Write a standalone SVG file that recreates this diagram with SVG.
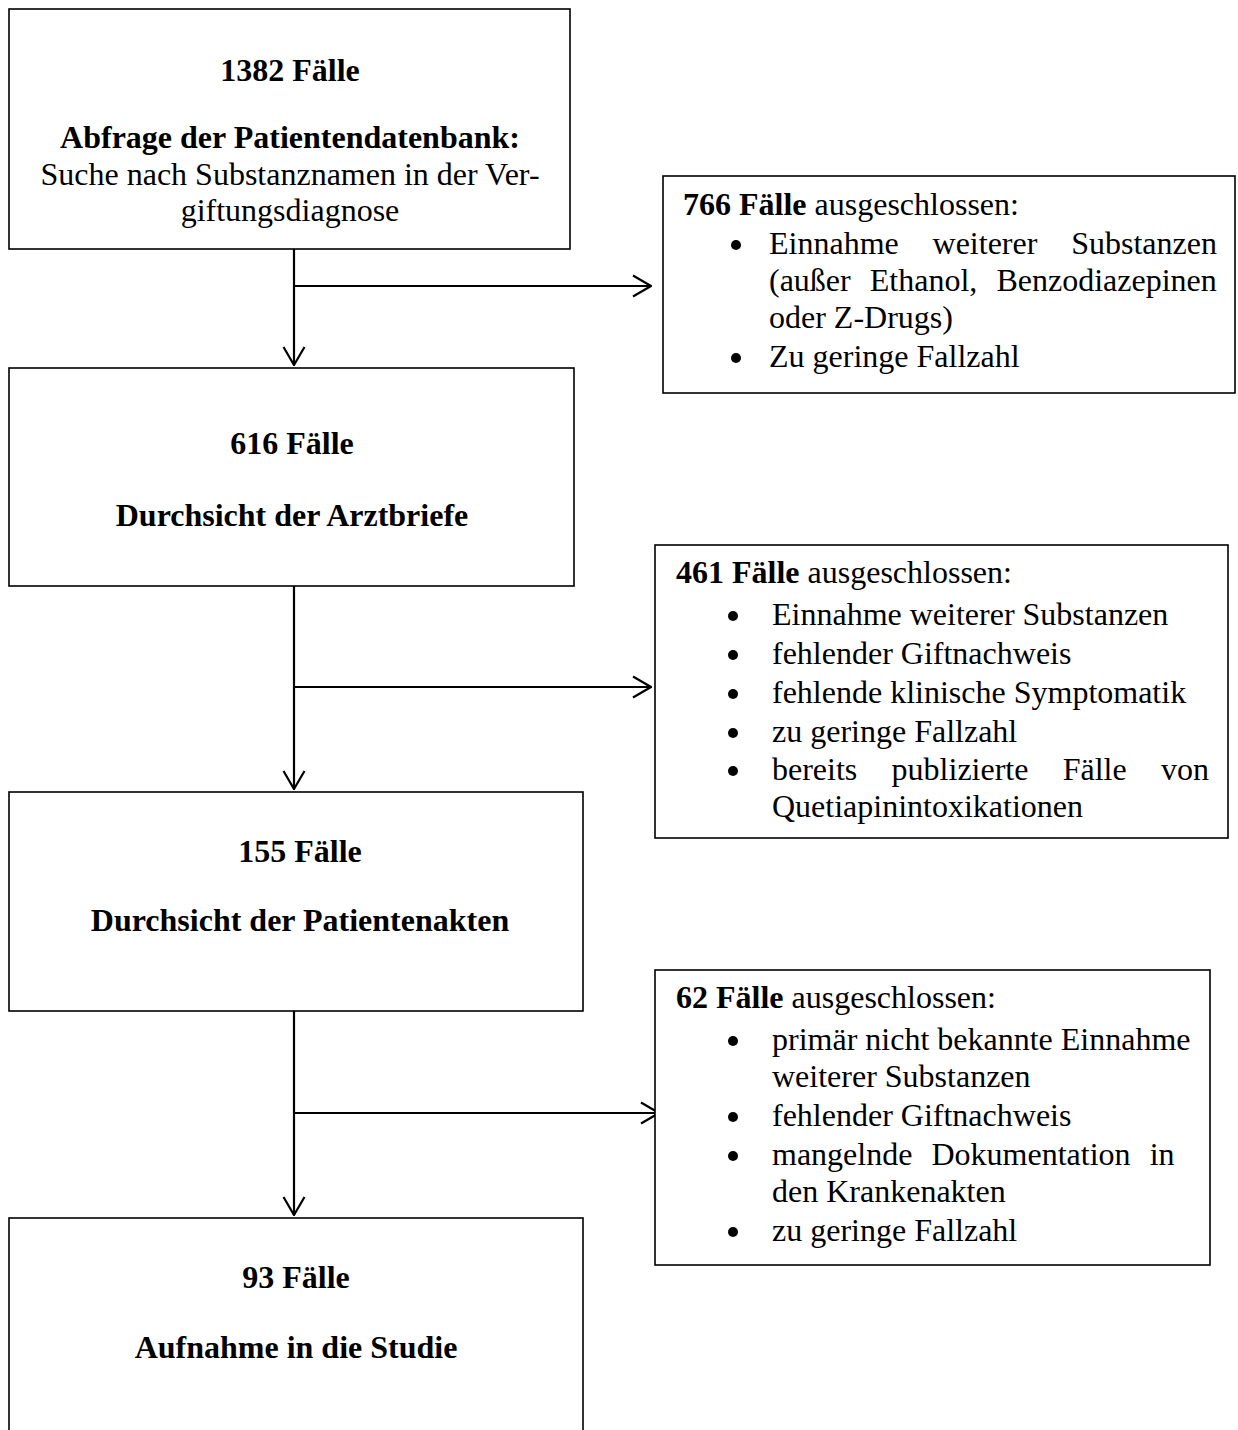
<svg xmlns="http://www.w3.org/2000/svg" width="1238" height="1430" viewBox="0 0 1238 1430">
<style>
text{font-family:"Liberation Serif","Times New Roman",serif;font-size:32px;fill:#000}
.b{font-weight:bold}
.c{text-anchor:middle}
.box{fill:#fff;stroke:#000;stroke-width:1.6}
.ln{fill:none;stroke:#000;stroke-width:2.2}
.dot{fill:#000}
</style>
<defs>
<marker id="arr" markerUnits="userSpaceOnUse" viewBox="0 0 20 24" refX="19" refY="12" markerWidth="20" markerHeight="24" orient="auto">
<path d="M1,1.5 L19,12 L1,22.5" fill="none" stroke="#000" stroke-width="2.2"/>
</marker>
</defs>
<rect width="1238" height="1430" fill="#fff"/>
<g id="connectors">
<line class="ln" x1="294" y1="249" x2="294" y2="365" marker-end="url(#arr)"/>
<line class="ln" x1="294" y1="286" x2="651" y2="286" marker-end="url(#arr)"/>
<line class="ln" x1="294" y1="586" x2="294" y2="789" marker-end="url(#arr)"/>
<line class="ln" x1="294" y1="687" x2="651" y2="687" marker-end="url(#arr)"/>
<line class="ln" x1="294" y1="1011" x2="294" y2="1215" marker-end="url(#arr)"/>
<line class="ln" x1="294" y1="1113" x2="659" y2="1113" marker-end="url(#arr)"/>
</g>
<g id="n1">
<rect class="box" x="9" y="9" width="561" height="240"/>
<text class="b c" x="290" y="81">1382 Fälle</text>
<text class="b c" x="290" y="148">Abfrage der Patientendatenbank:</text>
<text class="c" x="290" y="185">Suche nach Substanznamen in der Ver-</text>
<text class="c" x="290" y="221">giftungsdiagnose</text>
</g>
<g id="n2">
<rect class="box" x="9" y="368" width="565" height="218"/>
<text class="b c" x="292" y="454">616 Fälle</text>
<text class="b c" x="292" y="526">Durchsicht der Arztbriefe</text>
</g>
<g id="n3">
<rect class="box" x="9" y="792" width="574" height="219"/>
<text class="b c" x="300" y="862">155 Fälle</text>
<text class="b c" x="300" y="931">Durchsicht der Patientenakten</text>
</g>
<g id="n4">
<rect class="box" x="9" y="1218" width="574" height="230"/>
<text class="b c" x="296" y="1288">93 Fälle</text>
<text class="b c" x="296" y="1358">Aufnahme in die Studie</text>
</g>
<g id="x1">
<rect class="box" x="663" y="176" width="572" height="217"/>
<text x="683" y="215"><tspan class="b">766 Fälle</tspan> ausgeschlossen:</text>
<circle class="dot" cx="736" cy="245" r="5"/>
<text x="769" y="254" word-spacing="25.8">Einnahme weiterer Substanzen</text>
<text x="769" y="291" word-spacing="11.1">(außer Ethanol, Benzodiazepinen</text>
<text x="769" y="328">oder Z-Drugs)</text>
<circle class="dot" cx="736" cy="358" r="5"/>
<text x="769" y="367">Zu geringe Fallzahl</text>
</g>
<g id="x2">
<rect class="box" x="655" y="545" width="573" height="293"/>
<text x="676" y="583"><tspan class="b">461 Fälle</tspan> ausgeschlossen:</text>
<circle class="dot" cx="733" cy="616" r="5"/>
<text x="772" y="625">Einnahme weiterer Substanzen</text>
<circle class="dot" cx="733" cy="655" r="5"/>
<text x="772" y="664">fehlender Giftnachweis</text>
<circle class="dot" cx="733" cy="694" r="5"/>
<text x="772" y="703">fehlende klinische Symptomatik</text>
<circle class="dot" cx="733" cy="733" r="5"/>
<text x="772" y="742">zu geringe Fallzahl</text>
<circle class="dot" cx="733" cy="771" r="5"/>
<text x="772" y="780" word-spacing="26.3">bereits publizierte Fälle von</text>
<text x="772" y="817">Quetiapinintoxikationen</text>
</g>
<g id="x3">
<rect class="box" x="655" y="970" width="555" height="295"/>
<text x="676" y="1008"><tspan class="b">62 Fälle</tspan> ausgeschlossen:</text>
<circle class="dot" cx="733" cy="1041" r="5"/>
<text x="772" y="1050">primär nicht bekannte Einnahme</text>
<text x="772" y="1087">weiterer Substanzen</text>
<circle class="dot" cx="733" cy="1117" r="5"/>
<text x="772" y="1126">fehlender Giftnachweis</text>
<circle class="dot" cx="733" cy="1156" r="5"/>
<text x="772" y="1165" word-spacing="11.1">mangelnde Dokumentation in</text>
<text x="772" y="1202">den Krankenakten</text>
<circle class="dot" cx="733" cy="1232" r="5"/>
<text x="772" y="1241">zu geringe Fallzahl</text>
</g>
</svg>
